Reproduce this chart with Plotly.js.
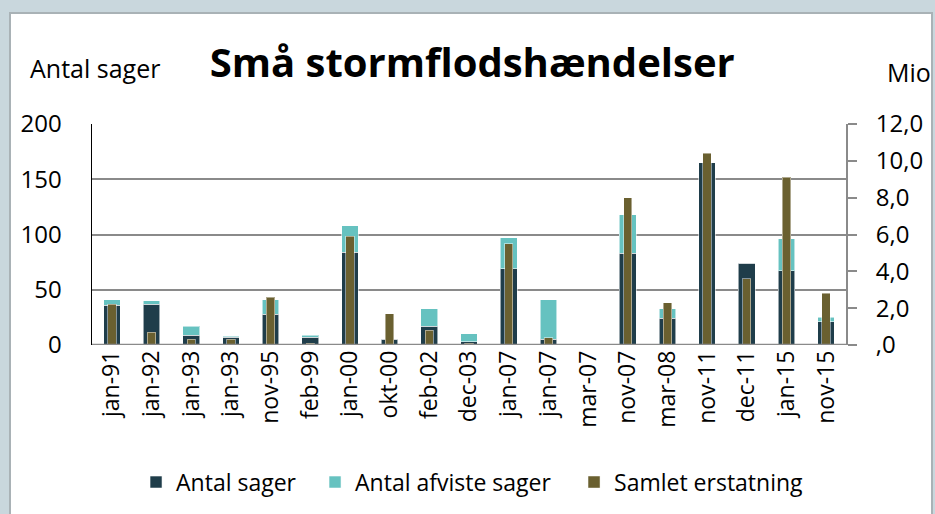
<!DOCTYPE html>
<html>
<head>
<meta charset="utf-8">
<script src="https://cdn.plot.ly/plotly-3.0.1.min.js"></script>
<style>
  html, body { margin:0; padding:0; width:935px; height:514px; overflow:hidden; background:#c9d7dd; }
  #frame { position:absolute; left:9px; top:12px; width:920px; height:520px; background:#ffffff; border-left:2px solid #a9b2b6; border-top:2px solid #a9b2b6; border-right:2px solid #a9b2b6; }
  #chart { position:absolute; left:0; top:0; width:935px; height:514px; }
</style>
</head>
<body>
<div id="frame"></div>
<div id="chart"></div>
<script>
const categories = ["jan-91","jan-92","jan-93","jan-93","nov-95","feb-99","jan-00","okt-00","feb-02","dec-03","jan-07","jan-07","mar-07","nov-07","mar-08","nov-11","dec-11","jan-15","nov-15"];
const antalSager = [36,37,9,7,28,7,84,5,17,3,69,5,0,83,24,165,74,67,21];
const antalAfviste = [5,3,8,1,13,2,24,0,16,7,28,36,0,35,9,0,0,29,4];
const samletErstatning = [2.2,0.7,0.3,0.3,2.6,0.1,5.9,1.7,0.8,0.1,5.5,0.4,0,8.0,2.3,10.4,3.6,9.1,2.8];
const leftTicks = [0,50,100,150,200];
const rightTicks = [0,2,4,6,8,10,12];
const rightTickText = [",0","2,0","4,0","6,0","8,0","10,0","12,0"];

const xs = categories.map((c,i)=>i);
const FONT = "'Open Sans', 'Noto Sans', sans-serif";

const traces = [
  {type:'bar', name:'Antal sager', x:xs, y:antalSager, width:0.42, legend:'legend',
   marker:{color:'#1f3d4a', line:{color:'rgba(255,255,255,0.55)', width:1}}, yaxis:'y'},
  {type:'bar', name:'Antal afviste sager', x:xs, y:antalAfviste, width:0.42, legend:'legend2',
   marker:{color:'#66c2c0', line:{color:'rgba(255,255,255,0.55)', width:1}}, yaxis:'y'},
  {type:'bar', name:'Samlet erstatning', x:xs, y:samletErstatning, width:0.21, legend:'legend3',
   marker:{color:'#6a6030', line:{color:'rgba(255,255,255,0.45)', width:1}}, yaxis:'y2'}
];

const legendBase = {orientation:'h', xanchor:'left', y:-0.613, yanchor:'middle',
  font:{size:23, family:FONT, color:'#000'}, bgcolor:'rgba(0,0,0,0)', itemwidth:30};

const layout = {
  width:935, height:514,
  margin:{l:92, r:89, t:124, b:168},
  paper_bgcolor:'rgba(0,0,0,0)',
  plot_bgcolor:'rgba(0,0,0,0)',
  barmode:'stack',
  showlegend:true,
  font:{family:FONT, color:'#000', size:20},
  title:{text:'<b>Små stormflodshændelser</b>', font:{family:FONT, size:40, color:'#000'},
         x:0.505, xanchor:'center', y:0.878, yanchor:'middle', xref:'container', yref:'container'},
  xaxis:{range:[-0.5,18.5], tickmode:'array', tickvals:xs, ticktext:categories, tickangle:-90,
         showgrid:false, zeroline:false, showline:false, ticks:'', tickfont:{size:23, family:FONT}, fixedrange:true},
  yaxis:{range:[0,200], tickmode:'array', tickvals:leftTicks, showgrid:true, gridcolor:'#8a8a8a', gridwidth:2,
         zeroline:false, showline:true, linecolor:'#000', linewidth:1.5, ticks:'', ticklen:0,
         tickfont:{size:24, family:FONT}, ticklabelstandoff:24},
  yaxis2:{range:[0,12], overlaying:'y', side:'right', tickmode:'array', tickvals:rightTicks, ticktext:rightTickText,
          showgrid:false, zeroline:false, showline:true, linecolor:'#8a8a8a', linewidth:2,
          ticks:'outside', ticklen:9, tickcolor:'#8a8a8a', tickwidth:2, tickfont:{size:24, family:FONT}, ticklabelstandoff:14},
  legend: Object.assign({}, legendBase, {x:0.0584}),
  legend2: Object.assign({}, legendBase, {x:0.2958}),
  legend3: Object.assign({}, legendBase, {x:0.6393}),
  shapes:[{type:'line', xref:'paper', yref:'y', x0:0, x1:1, y0:0, y1:0, line:{color:'#8a8a8a', width:2.5}}],
  annotations:[
    {text:'Antal sager', xref:'paper', yref:'paper', x:-0.085, y:1.252, xanchor:'left', yanchor:'middle', showarrow:false, font:{size:25, family:FONT}},
    {text:'Mio', xref:'paper', yref:'paper', x:1.052, y:1.234, xanchor:'left', yanchor:'middle', showarrow:false, font:{size:25, family:FONT}}
  ]
};

Plotly.newPlot('chart', traces, layout, {displayModeBar:false, staticPlot:true});
</script>
</body>
</html>
